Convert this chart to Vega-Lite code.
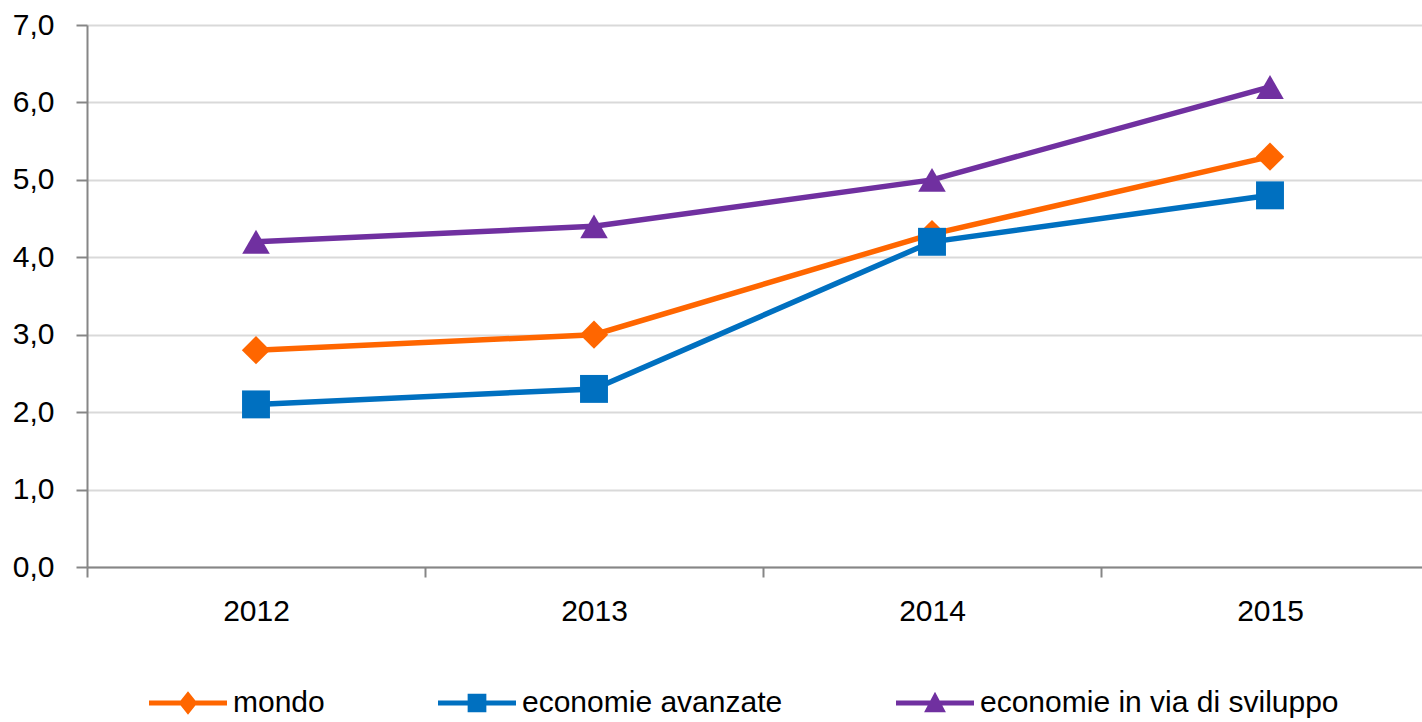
{
  "$schema": "https://vega.github.io/schema/vega-lite/v6.json",
  "width": 1335,
  "height": 542,
  "autosize": "none",
  "padding": {"left": 87, "top": 25, "right": 0, "bottom": 155},
  "background": "white",
  "config": {"view": {"stroke": null}, "font": "Liberation Sans"},
  "data": {
    "values": [
      {"anno": "2012", "serie": "mondo", "valore": 2.8},
      {"anno": "2013", "serie": "mondo", "valore": 3.0},
      {"anno": "2014", "serie": "mondo", "valore": 4.3},
      {"anno": "2015", "serie": "mondo", "valore": 5.3},
      {"anno": "2012", "serie": "economie avanzate", "valore": 2.1},
      {"anno": "2013", "serie": "economie avanzate", "valore": 2.3},
      {"anno": "2014", "serie": "economie avanzate", "valore": 4.2},
      {"anno": "2015", "serie": "economie avanzate", "valore": 4.8},
      {"anno": "2012", "serie": "economie in via di sviluppo", "valore": 4.2},
      {"anno": "2013", "serie": "economie in via di sviluppo", "valore": 4.4},
      {"anno": "2014", "serie": "economie in via di sviluppo", "valore": 5.0},
      {"anno": "2015", "serie": "economie in via di sviluppo", "valore": 6.2}
    ]
  },
  "encoding": {
    "x": {
      "field": "anno",
      "type": "ordinal",
      "scale": {"type": "band", "range": [0, 1352], "paddingInner": 0, "paddingOuter": 0},
      "axis": {
        "title": null,
        "labelAngle": 0,
        "tickBand": "extent",
        "domainColor": "#868686",
        "domainWidth": 2,
        "tickColor": "#868686",
        "tickWidth": 2,
        "tickSize": 10,
        "labelFontSize": 30,
        "labelColor": "black",
        "labelPadding": 19,
        "grid": false
      }
    },
    "y": {
      "field": "valore",
      "type": "quantitative",
      "scale": {"domain": [0, 7], "nice": false},
      "axis": {
        "title": null,
        "values": [0, 1, 2, 3, 4, 5, 6, 7],
        "labelExpr": "replace(format(datum.value, '.1f'), '.', ',')",
        "domainColor": "#868686",
        "domainWidth": 2,
        "tickColor": "#868686",
        "tickWidth": 2,
        "tickSize": 11,
        "labelFontSize": 30,
        "labelColor": "black",
        "labelPadding": 22,
        "grid": true,
        "gridColor": "#D9D9D9",
        "gridWidth": 2
      }
    }
  },
  "layer": [
    {
      "mark": {"type": "line", "strokeWidth": 5.5},
      "encoding": {
        "color": {
          "field": "serie",
          "type": "nominal",
          "scale": {"domain": ["mondo", "economie avanzate", "economie in via di sviluppo"], "range": ["#FF6600", "#0070C0", "#7030A0"]},
          "legend": null
        }
      }
    },
    {
      "mark": {"type": "point", "filled": true, "opacity": 1},
      "encoding": {
        "color": {
          "field": "serie",
          "type": "nominal",
          "scale": {"domain": ["mondo", "economie avanzate", "economie in via di sviluppo"], "range": ["#FF6600", "#0070C0", "#7030A0"]},
          "legend": null
        },
        "shape": {
          "field": "serie",
          "type": "nominal",
          "scale": {"domain": ["mondo", "economie avanzate", "economie in via di sviluppo"], "range": ["diamond", "square", "triangle-up"]},
          "legend": null
        },
        "size": {
          "field": "serie",
          "type": "nominal",
          "scale": {"domain": ["mondo", "economie avanzate", "economie in via di sviluppo"], "range": [800, 760, 1000]},
          "legend": null
        }
      }
    },
    {
      "mark": {"type": "point", "filled": true, "opacity": 0},
      "encoding": {
        "color": {
          "field": "serie",
          "type": "nominal",
          "scale": {"domain": ["mondo", "economie avanzate", "economie in via di sviluppo"], "range": ["#FF6600", "#0070C0", "#7030A0"]},
          "legend": {
            "title": null,
            "orient": "none",
            "legendX": 62,
            "legendY": 639,
            "direction": "horizontal",
            "symbolSize": 6084,
            "symbolStrokeWidth": 0,
            "symbolOpacity": 1,
            "labelFontSize": 30,
            "labelColor": "black",
            "labelOffset": 6,
            "columnPadding": 113,
            "labelLimit": 500
          }
        },
        "shape": {
          "field": "serie",
          "type": "nominal",
          "scale": {
            "domain": ["mondo", "economie avanzate", "economie in via di sviluppo"],
            "range": [
              "M-1,-0.065H1V0.065H-1Z M0,-0.3L0.24,0L0,0.3L-0.24,0Z",
              "M-1,-0.065H1V0.065H-1Z M-0.24,-0.24H0.24V0.24H-0.24Z",
              "M-1,-0.065H1V0.065H-1Z M0,-0.29L0.28,0.24L-0.28,0.24Z"
            ]
          },
          "legend": {
            "title": null,
            "orient": "none",
            "legendX": 62,
            "legendY": 639,
            "direction": "horizontal",
            "symbolSize": 6084,
            "symbolStrokeWidth": 0,
            "symbolOpacity": 1,
            "labelFontSize": 30,
            "labelColor": "black",
            "labelOffset": 6,
            "columnPadding": 113,
            "labelLimit": 500
          }
        }
      }
    }
  ],
  "resolve": {"scale": {"color": "independent", "shape": "independent"}}
}
